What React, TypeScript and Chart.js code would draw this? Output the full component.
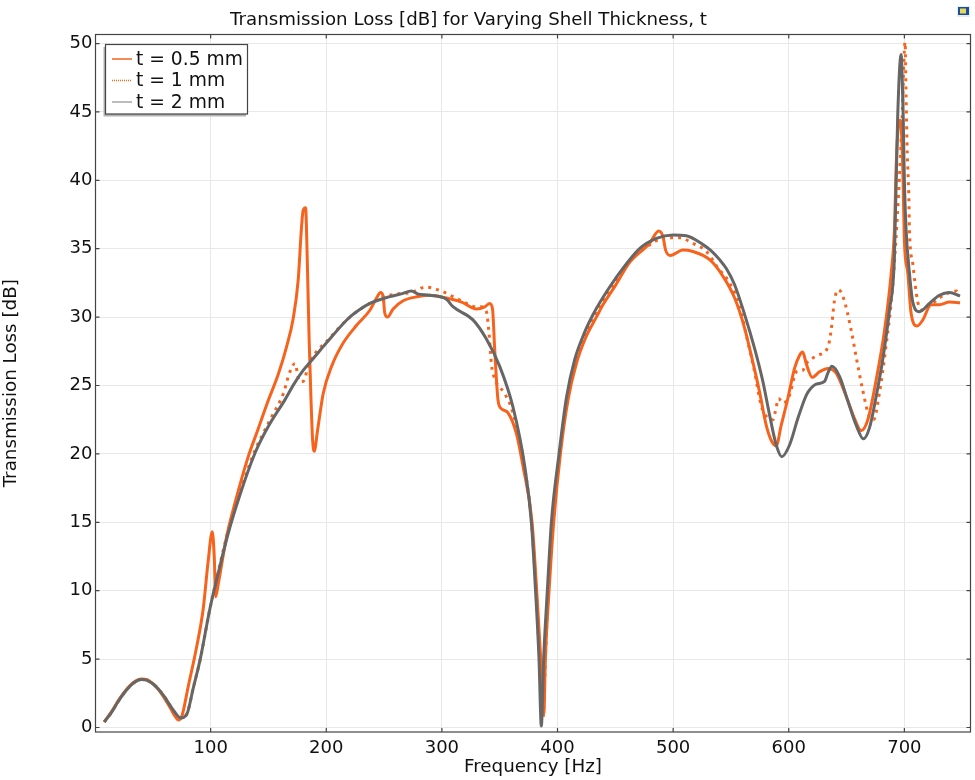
import React from "react";
import { Chart, ChartConfiguration, Plugin, registerables } from "chart.js";

Chart.register(...registerables);

const FONT_FAMILY = '"DejaVu Sans", sans-serif';
const ORANGE = "#f7631c";
const GREY = "#666666";

const chartTitle = "Transmission Loss [dB] for Varying Shell Thickness, t";
const xAxisTitle = "Frequency [Hz]";
const yAxisTitle = "Transmission Loss [dB]";
const xTickValues = [100, 200, 300, 400, 500, 600, 700];
const yTickValues = [0, 5, 10, 15, 20, 25, 30, 35, 40, 45, 50];

const freqThin = [
  8, 15, 20, 25, 30, 35, 40, 45, 50, 55, 60, 65, 69, 72, 75, 80.6, 87.9, 93.6, 97.9, 101.4, 103.1, 104.3, 106.6, 113.8,
  121, 132.5, 141, 149.8, 158.4, 165.7, 171.4, 175.7, 178.6, 180, 182.1, 183.5, 185.2, 186.7, 188.2, 189.6, 192.5,
  197.3, 204.6, 214.6, 226.2, 237.7, 243.5, 247, 249.2, 250.6, 253, 257.8, 266.5, 279.4, 289.5, 304, 317, 330, 337,
  341.4, 343.8, 345.7, 348.6, 351.5, 357.2, 364.4, 370.2, 378, 382, 385.5, 388.2, 389.5, 392.7, 396.7, 402.5, 409,
  416.3, 424.9, 433.6, 439.3, 450, 462.4, 479.7, 487.5, 491.2, 493.5, 497.6, 508.5, 517, 531.6, 543, 553.2, 561.8,
  567.6, 574.7, 580.5, 584.8, 589.2, 593.5, 599.2, 605, 609.3, 612.1, 615.1, 620.3, 626.6, 633.8, 641, 649.7, 656.8,
  662.6, 668.4, 675.6, 682.8, 688.6, 691.4, 692.9, 694.2, 696.5, 698.6, 700, 703, 705.8, 711, 716, 723, 730.3, 739,
  748.2,
];
const lossThin = [
  0.4, 1.25, 1.95, 2.55, 3.05, 3.4, 3.55, 3.5, 3.2, 2.75, 2.15, 1.45, 0.85, 0.55, 0.8, 3, 5.9, 8.7, 12.2, 14.3, 12.5,
  9.56, 10.5, 13.95, 16.4, 19.8, 21.8, 23.9, 25.8, 27.85, 29.9, 32.7, 36.6, 37.8, 38, 34.4, 28.3, 24.2, 21, 20.2, 21.75,
  24.4, 26.4, 28.1, 29.4, 30.5, 31.4, 31.8, 31.5, 30.3, 30, 30.6, 31.2, 31.5, 31.6, 31.4, 31.1, 30.6, 30.75, 31, 30.6,
  27.6, 23.9, 23.3, 23, 21.5, 19.07, 15, 10, 5, 1.05, 5, 10, 15, 20, 23.9, 26.6, 28.6, 30, 30.9, 32.3, 34, 35.4, 36.3,
  35.9, 34.9, 34.5, 34.9, 34.8, 34.2, 33, 31.4, 29.2, 27.2, 24.55, 22.1, 21, 20.6, 22.1, 24.05, 26.25, 27.2, 27.45,
  26.6, 25.6, 26, 26.25, 25.9, 24.2, 22.6, 21.7, 22.5, 25.4, 29, 33.2, 36.4, 41, 43.4, 44.4, 41, 35.6, 33.2, 30.3,
  29.35, 29.8, 30.9, 30.9, 31.1, 31.05,
];

const freqMid = [
  8, 15, 20, 25, 30, 35, 40, 45, 50, 55, 60, 65, 70, 74, 77, 80, 85, 91, 99.4, 106.6, 115.2, 125.3, 138.3, 145.5, 152,
  162.8, 168.5, 172.9, 176.8, 180, 184.4, 190, 200, 219, 228, 237.7, 250, 262, 273.7, 286, 298, 315.5, 330, 334, 338.5,
  340.8, 342.8, 345.7, 354.4, 361.5, 371, 377.5, 381.5, 384.5, 387.5, 389.5, 392, 395.5, 402, 408.3, 415.5, 424, 432,
  438, 450, 465, 480, 492.6, 505.6, 517, 528.7, 538.7, 548.8, 557.5, 564, 570.5, 576, 581, 586.3, 588.4, 591.2, 595,
  600.7, 606.5, 612, 615.1, 625, 633.8, 636.7, 639.6, 643, 647.3, 654, 658.3, 664, 669.8, 673.4, 678.3, 684.1, 689.8,
  695, 698, 700.6, 701.5, 702.5, 703.8, 704.4, 707.3, 711.6, 716, 723, 730.3, 739, 745, 748,
];
const lossMid = [
  0.4, 1.2, 1.9, 2.5, 3, 3.35, 3.5, 3.45, 3.2, 2.8, 2.25, 1.6, 1, 0.7, 0.75, 1.1, 2.9, 5, 8.7, 11.4, 14.4, 17.2, 20.25,
  21.5, 22.6, 24.4, 26, 26.6, 25.3, 25.3, 26.4, 27.3, 28.2, 29.9, 30.5, 31, 31.5, 31.7, 31.8, 32.2, 31.95, 31.25, 30.75,
  30.75, 30.4, 28.8, 26.6, 25.5, 24.4, 23, 19.3, 15, 10, 5, 0.7, 5, 10, 15, 20, 24, 26.8, 28.8, 30.1, 31, 32.6, 34.3,
  35.3, 35.8, 35.8, 35.4, 34.8, 33.6, 32.5, 30.8, 28.4, 26, 23.6, 22.7, 22.5, 23.1, 24.05, 23.7, 24.3, 26, 26.1, 26.6,
  27.2, 27.8, 29.05, 31.25, 32, 31.4, 29.05, 27.1, 24.65, 22.7, 22.5, 24.4, 27.85, 32.2, 39, 44.5, 50.1, 46, 42, 39,
  36.4, 33.9, 31.1, 30.5, 30.9, 31.4, 31.8, 31.9, 31.6,
];

const freqThick = [
  8, 15, 20, 25, 30, 35, 40, 45, 50, 55, 60, 65, 70, 74, 77, 80, 85, 91, 99.4, 106.6, 115.2, 125.3, 138.3, 149.8, 164.2,
  172, 180, 190, 200, 219, 228, 237.7, 255, 265, 273.7, 279, 289, 304, 309.6, 326.9, 338.5, 350, 361.4, 371.7, 377.4,
  381, 384, 386, 388, 391.2, 394.7, 401.3, 407.7, 414.9, 423.5, 430.2, 436.5, 450, 471, 485.5, 500, 511.4, 525.8, 533,
  540.2, 546, 553, 561.8, 570.5, 577.6, 583.4, 589.2, 594, 600.7, 607.9, 613.7, 616.5, 623.8, 631, 633.8, 637.3, 644,
  651, 658.3, 664.6, 669.8, 675.6, 681.3, 687.1, 691.4, 694.2, 697.2, 699, 700, 701.5, 704.4, 707.3, 713, 721.7, 730.3,
  739, 748.2,
];
const lossThick = [
  0.4, 1.2, 1.9, 2.5, 3, 3.35, 3.5, 3.45, 3.2, 2.8, 2.25, 1.6, 1, 0.7, 0.75, 1.1, 2.9, 5, 8.7, 11.3, 14.2, 17, 20.05,
  22, 23.95, 25.1, 26.1, 27.1, 28.1, 29.9, 30.5, 31, 31.5, 31.7, 31.9, 31.7, 31.6, 31.3, 30.76, 29.8, 28.4, 26.4, 23.45,
  19.07, 15, 10, 5, 0.1, 5, 10, 15, 20, 24.1, 26.9, 28.9, 30.1, 31.05, 32.8, 35, 35.75, 36, 35.95, 35.3, 34.85, 34.2,
  33.55, 32.4, 30.2, 27.7, 25.3, 22.85, 20.65, 19.8, 20.65, 22.6, 24, 24.5, 25.1, 25.3, 25.9, 26.4, 25.65, 23.9, 22.1,
  21.1, 21.9, 24.2, 26.9, 30.5, 34.4, 44.6, 49.2, 44.5, 40, 36.4, 33.2, 31.1, 30.4, 31, 31.6, 31.8, 31.55,
];

const toPoints = (xs: number[], ys: number[]) => xs.map((x, i) => ({ x, y: ys[i] }));

// frame, inner ticks, heading, boxed legend and the small logo are not part of
// what chart.js can place freely, so they go on the canvas here
const decorationsPlugin: Plugin<"line"> = {
  id: "decorations",
  afterDraw(chart) {
    const { ctx, chartArea: a, scales } = chart;
    ctx.save();

    ctx.strokeStyle = "#444444";
    ctx.lineWidth = 1.2;
    ctx.strokeRect(a.left, a.top, a.right - a.left, a.bottom - a.top);
    ctx.beginPath();
    xTickValues.forEach((v) => {
      const px = scales.x.getPixelForValue(v);
      ctx.moveTo(px, a.bottom);
      ctx.lineTo(px, a.bottom - 4);
      ctx.moveTo(px, a.top);
      ctx.lineTo(px, a.top + 4);
    });
    yTickValues.forEach((v) => {
      const py = scales.y.getPixelForValue(v);
      ctx.moveTo(a.left, py);
      ctx.lineTo(a.left + 4, py);
      ctx.moveTo(a.right, py);
      ctx.lineTo(a.right - 4, py);
    });
    ctx.stroke();

    ctx.fillStyle = "#111111";
    ctx.font = `18.2px ${FONT_FAMILY}`;
    ctx.textAlign = "center";
    ctx.textBaseline = "middle";
    ctx.fillText(chartTitle, 468.5, 20);

    ctx.fillStyle = "#b4b4b4";
    ctx.fillRect(103.5, 47, 142.5, 69.5);
    ctx.fillStyle = "#ffffff";
    ctx.fillRect(105.5, 44.5, 142, 69.5);
    ctx.strokeStyle = "#444444";
    ctx.lineWidth = 1.2;
    ctx.strokeRect(105.5, 44.5, 142, 69.5);
    ctx.font = `18.7px ${FONT_FAMILY}`;
    ctx.textAlign = "left";
    chart.data.datasets.forEach((dataset, i) => {
      const rowY = 59 + i * 21.5;
      ctx.strokeStyle = i === 2 ? "#a6a6a6" : (dataset.borderColor as string);
      ctx.lineWidth = 1.5;
      ctx.setLineDash(i === 1 ? [1, 1] : []);
      ctx.beginPath();
      ctx.moveTo(112, rowY);
      ctx.lineTo(132, rowY);
      ctx.stroke();
      ctx.setLineDash([]);
      ctx.fillStyle = "#111111";
      ctx.fillText(dataset.label ?? "", 136, rowY + 1);
    });

    ctx.fillStyle = "#e8ecf0";
    ctx.fillRect(957, 6, 13, 11);
    ctx.fillStyle = "#1a4fa0";
    ctx.fillRect(958, 7, 11, 8);
    ctx.fillStyle = "#e6d95a";
    ctx.fillRect(960, 8.5, 6, 5);

    ctx.restore();
  },
};

const App: React.FC = () => {
  const canvasRef = React.useRef<HTMLCanvasElement | null>(null);

  React.useEffect(() => {
    const canvas = canvasRef.current;
    if (!canvas) return;

    const config: ChartConfiguration<"line"> = {
      type: "line",
      data: {
        datasets: [
          {
            label: "t = 0.5 mm",
            data: toPoints(freqThin, lossThin),
            borderColor: ORANGE,
            borderWidth: 3,
            pointRadius: 0,
            cubicInterpolationMode: "monotone",
            order: 3,
          },
          {
            label: "t = 1 mm",
            data: toPoints(freqMid, lossMid),
            borderColor: ORANGE,
            borderWidth: 3,
            borderDash: [3, 5],
            pointRadius: 0,
            cubicInterpolationMode: "monotone",
            order: 2,
          },
          {
            label: "t = 2 mm",
            data: toPoints(freqThick, lossThick),
            borderColor: GREY,
            borderWidth: 3,
            pointRadius: 0,
            cubicInterpolationMode: "monotone",
            order: 1,
          },
        ],
      },
      options: {
        animation: false,
        responsive: false,
        devicePixelRatio: 1,
        layout: { padding: { top: 34.5, right: 4.5, left: 0, bottom: 0 } },
        plugins: {
          legend: { display: false },
          tooltip: { enabled: false },
        },
        scales: {
          x: {
            type: "linear",
            min: 0.4,
            max: 757.2,
            afterFit: (scale) => {
              scale.height = 48;
            },
            afterBuildTicks: (scale) => {
              scale.ticks = xTickValues.map((value) => ({ value }));
            },
            grid: { color: "#e8e8e8", lineWidth: 1, drawTicks: false },
            border: { display: false },
            ticks: {
              autoSkip: false,
              maxRotation: 0,
              padding: 6,
              color: "#111111",
              font: { family: FONT_FAMILY, size: 18 },
            },
            title: {
              display: true,
              text: xAxisTitle,
              color: "#111111",
              font: { family: FONT_FAMILY, size: 18.3 },
              padding: { top: 0, bottom: 2 },
            },
          },
          y: {
            min: -0.33,
            max: 50.66,
            afterFit: (scale) => {
              scale.width = 95.5;
            },
            afterBuildTicks: (scale) => {
              scale.ticks = yTickValues.map((value) => ({ value }));
            },
            grid: { color: "#e8e8e8", lineWidth: 1, drawTicks: false },
            border: { display: false },
            ticks: {
              autoSkip: false,
              padding: 3,
              color: "#111111",
              font: { family: FONT_FAMILY, size: 18 },
            },
            title: {
              display: true,
              text: yAxisTitle,
              color: "#111111",
              font: { family: FONT_FAMILY, size: 18.3 },
              padding: { top: 0, bottom: 0 },
            },
          },
        },
      },
      plugins: [decorationsPlugin],
    };

    const chart = new Chart(canvas, config);
    return () => {
      chart.destroy();
    };
  }, []);

  return (
    <div style={{ position: "absolute", left: 0, top: 0, width: 975, height: 780, background: "#ffffff" }}>
      <canvas ref={canvasRef} width={975} height={780} style={{ display: "block" }} />
    </div>
  );
};

export default App;
